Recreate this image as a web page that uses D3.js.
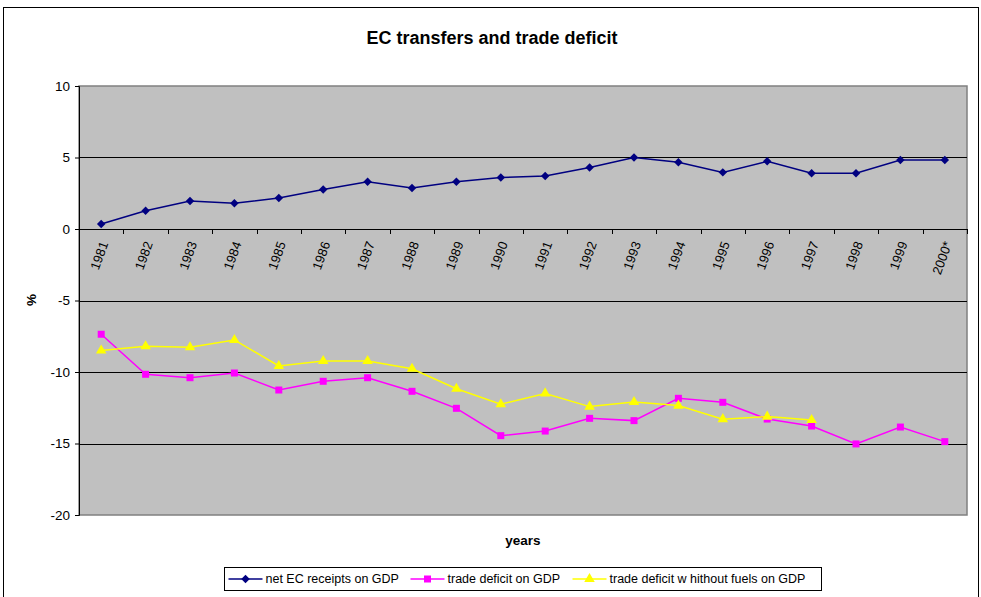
<!DOCTYPE html>
<html>
<head>
<meta charset="utf-8">
<script src="https://cdnjs.cloudflare.com/ajax/libs/d3/7.8.5/d3.min.js"></script>
<style>
  body { margin: 0; background: #fff; }
  text { font-family: "Liberation Sans", Arial, sans-serif; }
</style>
</head>
<body>
<div class="chart"></div>
<script>
// data
var years = ["1981","1982","1983","1984","1985","1986","1987","1988","1989","1990",
             "1991","1992","1993","1994","1995","1996","1997","1998","1999","2000*"];
var ecReceipts = [0.35, 1.28, 1.96, 1.8, 2.17, 2.77, 3.3, 2.87, 3.3, 3.6,
                  3.7, 4.3, 5.0, 4.66, 3.96, 4.73, 3.9, 3.9, 4.83, 4.83];
var tradeDeficit = [-7.36, -10.16, -10.4, -10.07, -11.26, -10.65, -10.4, -11.35, -12.54, -14.45,
                    -14.13, -13.24, -13.4, -11.84, -12.12, -13.29, -13.78, -15.03, -13.85, -14.87];
var tradeNoFuel = [-8.5, -8.2, -8.27, -7.76, -9.58, -9.23, -9.23, -9.77, -11.17, -12.26,
                   -11.5, -12.42, -12.1, -12.35, -13.3, -13.12, -13.36, null, null, null];
var yTicks = [10, 5, 0, -5, -10, -15, -20];

var series = [
  {name: "net EC receipts on GDP", values: ecReceipts, color: "#000080", symbol: d3.symbolSquare, size: 36, rot: 45},
  {name: "trade deficit on GDP", values: tradeDeficit, color: "#ff00ff", symbol: d3.symbolSquare, size: 49, rot: 0},
  {name: "trade deficit w hithout fuels on GDP", values: tradeNoFuel, color: "#ffff00", symbol: d3.symbolTriangle, size: 48, rot: 0}
];

var svgWidth = 981, svgHeight = 597;
var margin = {top: 86, right: 14, bottom: 82, left: 79};
var chart_width = svgWidth - margin.left - margin.right,
    chart_height = svgHeight - margin.top - margin.bottom;

var svg = d3.select(".chart")
  .append("svg")
    .attr("width", svgWidth)
    .attr("height", svgHeight);

// outer frame
svg.append("rect")
  .attr("x", 3.5).attr("y", 7.5)
  .attr("width", 975).attr("height", 600)
  .attr("fill", "none").attr("stroke", "#000");

svg.append("text")
  .attr("x", 492).attr("y", 44)
  .attr("text-anchor", "middle")
  .attr("font-weight", "bold")
  .attr("font-size", 18)
  .text("EC transfers and trade deficit");

var g = svg.append("g")
  .attr("transform", "translate(" + margin.left + "," + margin.top + ")");

var x = d3.scaleBand().domain(years).range([0, chart_width]);
var y = d3.scaleLinear().domain([-20, 10]).range([chart_height, 0]);

// plot area
g.append("rect")
  .attr("width", chart_width).attr("height", chart_height)
  .attr("fill", "#c0c0c0")
  .attr("stroke", "#808080").attr("stroke-width", 1.5);

// gridlines
g.selectAll(".grid")
  .data(yTicks.filter(function(d){ return d !== 10 && d !== -20 && d !== 0; }))
  .enter().append("line")
    .attr("x1", 0).attr("x2", chart_width)
    .attr("y1", function(d){ return Math.round(y(d)) + 0.5; })
    .attr("y2", function(d){ return Math.round(y(d)) + 0.5; })
    .attr("stroke", "#000");

// y axis
var yAxis = g.append("g")
  .call(d3.axisLeft(y).tickValues(yTicks).tickSize(4).tickPadding(5)
    .tickFormat(function(d){ return String(d); }));
yAxis.select(".domain").attr("stroke", "#000");
yAxis.selectAll("text").attr("font-size", 13.5).attr("font-family", "Liberation Sans, Arial, sans-serif");

// x axis on the zero line
var xAxisG = g.append("g").attr("transform", "translate(0," + Math.round(y(0)) + ")");
xAxisG.append("line")
  .attr("x1", 0).attr("x2", chart_width)
  .attr("y1", 0.5).attr("y2", 0.5)
  .attr("stroke", "#000");
xAxisG.selectAll(".tk")
  .data(years.concat(["end"]))
  .enter().append("line")
    .attr("x1", function(d, i){ return Math.round(i * x.bandwidth()) + 0.5; })
    .attr("x2", function(d, i){ return Math.round(i * x.bandwidth()) + 0.5; })
    .attr("y1", 0).attr("y2", 5)
    .attr("stroke", "#000");
xAxisG.selectAll(".lbl")
  .data(years)
  .enter().append("text")
    .attr("transform", function(d){
      return "translate(" + (x(d) + x.bandwidth() / 2 + 3) + ",13) rotate(-70)";
    })
    .attr("text-anchor", "end")
    .attr("dy", "0.35em")
    .attr("font-size", 13)
    .attr("fill", "#000")
    .text(function(d){ return d; });

// axis titles
svg.append("text")
  .attr("transform", "translate(36,300) rotate(-90)")
  .attr("text-anchor", "middle")
  .attr("font-weight", "bold")
  .attr("font-size", 13.5)
  .text("%");
svg.append("text")
  .attr("x", 523).attr("y", 545)
  .attr("text-anchor", "middle")
  .attr("font-weight", "bold")
  .attr("font-size", 13.5)
  .text("years");

// lines + markers
var line = d3.line()
  .defined(function(d){ return d != null; })
  .x(function(d, i){ return x(years[i]) + x.bandwidth() / 2; })
  .y(function(d){ return y(d); });

series.forEach(function(s){
  g.append("path")
    .datum(s.values)
    .attr("fill", "none")
    .attr("stroke", s.color)
    .attr("stroke-width", 1.5)
    .attr("d", line);
  g.selectAll(null)
    .data(s.values.map(function(v, i){ return {v: v, i: i}; }).filter(function(d){ return d.v != null; }))
    .enter().append("path")
      .attr("d", d3.symbol().type(s.symbol).size(s.size))
      .attr("transform", function(d){
        return "translate(" + (x(years[d.i]) + x.bandwidth() / 2) + "," + y(d.v) + ") rotate(" + s.rot + ")";
      })
      .attr("fill", s.color);
});

// legend
var legend = svg.append("g").attr("transform", "translate(224.5,567.5)");
legend.append("rect")
  .attr("width", 597).attr("height", 23)
  .attr("fill", "#fff").attr("stroke", "#000");
var offsets = [4, 186, 348];
series.forEach(function(s, i){
  var lg = legend.append("g").attr("transform", "translate(" + offsets[i] + ",11.5)");
  lg.append("line").attr("x1", 0).attr("x2", 34).attr("stroke", s.color).attr("stroke-width", 1.5);
  lg.append("path").attr("d", d3.symbol().type(s.symbol).size(s.size))
    .attr("transform", "translate(17,0) rotate(" + s.rot + ")").attr("fill", s.color);
  lg.append("text").attr("x", 37).attr("dy", "0.35em").attr("font-size", 12.5).text(s.name);
});
</script>
</body>
</html>
